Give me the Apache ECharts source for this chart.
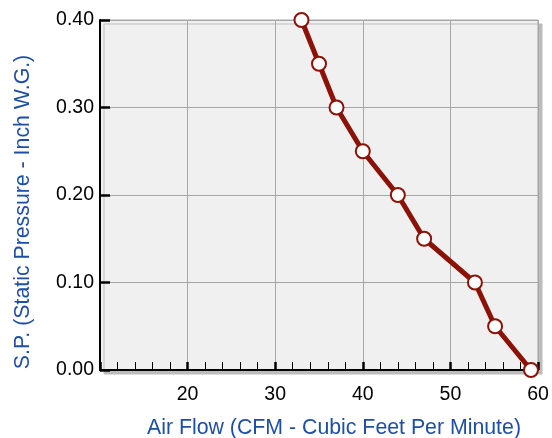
<!DOCTYPE html>
<html>
<head>
<meta charset="utf-8">
<script src="https://cdn.jsdelivr.net/npm/echarts@6/dist/echarts.min.js"></script>
<style>
html,body{margin:0;padding:0;background:#fff;}
#chart{width:552px;height:438px;}
</style>
</head>
<body>
<div id="chart"></div>
<script>
var airflow = [33, 35, 37, 40, 44, 47, 52.8, 55.1, 59.2];
var pressure = [0.40, 0.35, 0.30, 0.25, 0.20, 0.15, 0.10, 0.05, 0.00];
var xTitle = 'Air Flow (CFM - Cubic Feet Per Minute)';
var yTitle = 'S.P. (Static Pressure - Inch W.G.)';

var points = airflow.map(function (x, i) { return [x, pressure[i]]; });
var font = '"Liberation Sans", Arial, sans-serif';
var lineColor = '#8c1208';
var titleColor = '#1f4ea6';

var chart = echarts.init(document.getElementById('chart'), null, {renderer: 'canvas'});
chart.setOption({
  animation: false,
  backgroundColor: '#ffffff',
  grid: {
    left: 100, right: 14, top: 20, bottom: 68,
    containLabel: false,
    outerBoundsMode: 'none',
    show: true,
    backgroundColor: '#f0f0f0',
    borderColor: '#a6a6a6',
    borderWidth: 1,
    shadowColor: '#bcbcbc',
    shadowOffsetX: 4,
    shadowOffsetY: 4,
    shadowBlur: 0
  },
  xAxis: {
    type: 'value',
    min: 10, max: 60, interval: 10,
    name: xTitle,
    nameLocation: 'middle',
    nameGap: 48,
    nameTextStyle: {color: titleColor, fontSize: 21.3, fontFamily: font, padding: [0, 0, 0, 30]},
    axisLine: {show: true, onZero: false, lineStyle: {color: '#000', width: 2}},
    axisTick: {show: true, inside: true, length: 8, lineStyle: {color: '#000', width: 2.5}},
    minorTick: {show: true, splitNumber: 5, length: 8, lineStyle: {color: '#000', width: 1}},
    axisLabel: {showMinLabel: false, margin: 15, color: '#000', fontSize: 19.5, fontFamily: font},
    splitLine: {show: true, lineStyle: {color: '#a6a6a6', width: 1}}
  },
  yAxis: {
    type: 'value',
    min: 0, max: 0.4, interval: 0.1,
    name: yTitle,
    nameLocation: 'middle',
    nameGap: 66,
    nameTextStyle: {color: titleColor, fontSize: 21.3, fontFamily: font, padding: [0, 34, 0, 0]},
    axisLine: {show: true, onZero: false, lineStyle: {color: '#000', width: 2}},
    axisTick: {show: true, inside: true, length: 10, lineStyle: {color: '#000', width: 2.5}},
    axisLabel: {margin: 6, color: '#000', fontSize: 19.5, fontFamily: font,
      formatter: function (v) { return v.toFixed(2); }},
    splitLine: {show: true, lineStyle: {color: '#a6a6a6', width: 1}}
  },
  series: [{
    type: 'line',
    data: points,
    clip: false,
    lineStyle: {color: lineColor, width: 5},
    symbol: 'circle',
    symbolSize: 14,
    itemStyle: {color: '#ffffff', borderColor: lineColor, borderWidth: 2}
  }]
});
</script>
</body>
</html>
